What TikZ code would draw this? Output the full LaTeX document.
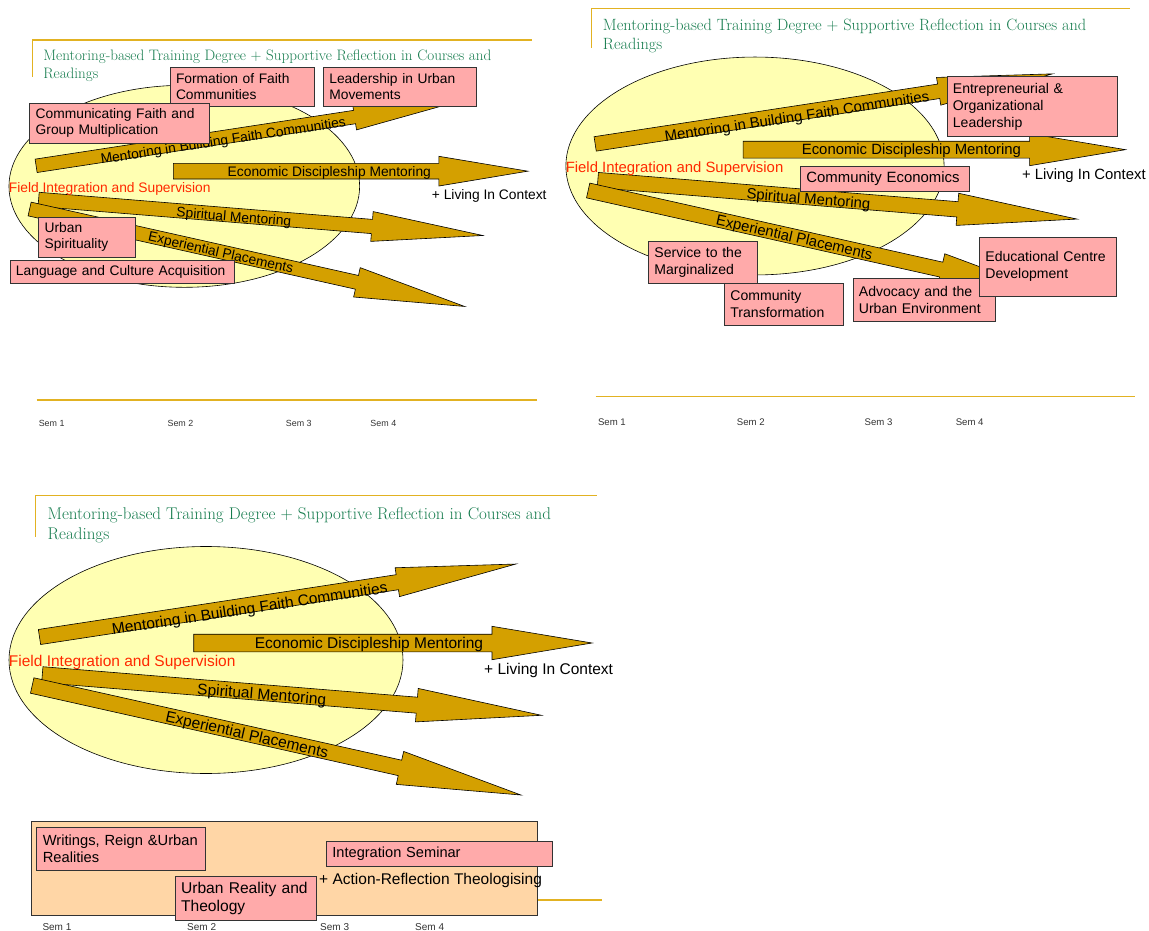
\documentclass[tikz,border=0pt]{standalone}
\usepackage{fontspec}
\setsansfont{Liberation Sans}
\usepackage{tikz}

\definecolor{framegold}{RGB}{226,178,34}
\definecolor{arrowgold}{RGB}{212,160,0}
\definecolor{fieldyellow}{RGB}{255,255,178}
\definecolor{topicpink}{RGB}{255,170,170}
\definecolor{bandpeach}{RGB}{255,214,166}
\definecolor{titlegreen}{RGB}{22,124,78}
\definecolor{fieldred}{RGB}{255,40,0}

\newcommand{\fatarrow}[9]{%
  \begin{scope}[shift={#1},rotate=#2]
    \draw[arrowbody] (0,-#4) -- ({#3-#6},-#4) -- ({#3-#6},-#5) -- (#3,0)
      -- ({#3-#6},#5) -- ({#3-#6},#4) -- (0,#4) -- cycle;
    \node[arrowlabel] (#8) at ({0.44*#3},#7) {#9};
  \end{scope}}

\begin{document}
\begin{tikzpicture}
	[ x=1pt, y=-1pt,
		arrowbody/.style={fill=arrowgold,draw=black,line width=0.6pt},
		arrowlabel/.style={inner sep=0pt,font=\sffamily\fontsize{15.5}{18}\selectfont},
		goldline/.style={draw=framegold,line width=1.3pt},
		fieldzone/.style={fill=fieldyellow,draw=black,line width=0.6pt},
		titletext/.style={anchor=north west,inner sep=0pt,align=left,text=titlegreen,font=\fontsize{17}{20}\selectfont},
		semlabel/.style={anchor=west,inner sep=0pt,text=black!80,font=\sffamily\fontsize{10}{12}\selectfont},
		fieldtext/.style={anchor=west,inner sep=0pt,text=fieldred,font=\sffamily\fontsize{15.5}{18}\selectfont},
		contexttext/.style={anchor=west,inner sep=0pt,font=\sffamily\fontsize{15.5}{18}\selectfont},
		band/.style={fill=bandpeach,draw=black!80,line width=0.8pt},
		topic/.style={anchor=north west,draw=black!80,line width=0.8pt,fill=topicpink,align=left,inner xsep=6pt,inner ysep=0pt},
		small topic/.style={topic,font=\sffamily\fontsize{13.8}{16.6}\selectfont},
		mid topic/.style={topic,font=\sffamily\fontsize{14.05}{17}\selectfont},
		panel/.pic={
			\draw[goldline] (-170.4,-123) -- (-170.4,-164.3) -- (391,-164.3);
			\node[titletext] (title) at (-158.6,-153) {Mentoring-based Training Degree + Supportive Reflection in Courses and\\Readings};
			\draw[goldline] (-166,240) -- (396,240);
			\node[semlabel] (sem1) at (-163.7,267) {Sem 1};
			\node[semlabel] (sem2) at (-19,267) {Sem 2};
			\node[semlabel] (sem3) at (114,267) {Sem 3};
			\node[semlabel] (sem4) at (209,267) {Sem 4};
			\draw[fieldzone] (0,0) ellipse [x radius=197,y radius=113.5];
			\fatarrow{(-166.5,-23)}{8.71}{482}{7.6}{14.6}{120}{5}{faith}{Mentoring in Building Faith Communities}
			\fatarrow{(-12.3,-17)}{0}{398.3}{8.8}{16.7}{100}{1.5}{economic}{Economic Discipleship Mentoring}
			\fatarrow{(-163.7,14.7)}{-4.65}{500.8}{8}{16.8}{125}{3}{spiritual}{Spiritual Mentoring}
			\fatarrow{(-173.8,25.5)}{-12.63}{500.9}{7.9}{16.9}{124}{2}{placements}{Experiential Placements}
			\node[fieldtext] (field) at (-197.3,2.5) {Field Integration and Supervision};
			\node[contexttext] (context) at (278,10.5) {+ Living In Context};
		}]

	\useasboundingbox (0,0) rectangle (1149,931);

	\pic[scale=0.89,transform shape] (left) at (184.3,186.3) {panel};
	\pic[scale=0.96,transform shape] (right) at (755,166) {panel};
	\pic[transform shape] (lower) at (206,660) {panel};

	\node[small topic,text width=132.7pt,minimum height=39.3pt] (formation) at (169.6,66.7) {Formation of Faith\\Communities};
	\node[small topic,text width=141pt,minimum height=39.3pt] (leadership) at (323,66.7) {Leadership in Urban\\Movements};
	\node[small topic,text width=167.7pt,minimum height=40pt] (communicating) at (29.3,102.7) {Communicating Faith and\\Group Multiplication};
	\node[small topic,text width=84.4pt,minimum height=40pt] (urban spirituality) at (38.2,216.7) {Urban\\Spirituality};
	\node[small topic,text width=212pt,minimum height=23.3pt] (language) at (9.6,260) {Language and Culture Acquisition};

	\node[mid topic,text width=158.5pt,minimum height=60pt] (entrepreneurial) at (946.5,76) {Entrepreneurial \&\\Organizational\\Leadership};
	\node[mid topic,font=\sffamily\fontsize{14.9}{17.8}\selectfont,text width=157pt,minimum height=25pt] (community economics) at (800,165.7) {Community Economics};
	\node[mid topic,text width=97pt,minimum height=42pt] (service) at (648,241) {Service to the\\Marginalized};
	\node[mid topic,text width=106.7pt,minimum height=42pt] (transformation) at (724,283) {Community\\Transformation};
	\node[mid topic,text width=130pt,minimum height=42.7pt] (advocacy) at (852.5,278) {Advocacy and the\\Urban Environment};
	\node[mid topic,text width=124.6pt,minimum height=59.3pt] (educational) at (979,236.7) {Educational Centre\\Development};

	\draw[band] (31.6,821.7) rectangle (537.5,915);
	\node[topic,font=\sffamily\fontsize{14.7}{17.7}\selectfont,text width=157pt,minimum height=43.3pt] (writings) at (36.4,826.7) {Writings, Reign \&Urban\\Realities};
	\node[topic,font=\sffamily\fontsize{15.6}{18.4}\selectfont,text width=129.3pt,minimum height=44pt] (urban reality) at (174.7,876) {Urban Reality and\\Theology};
	\node[topic,font=\sffamily\fontsize{14.6}{17.5}\selectfont,text width=214pt,minimum height=25pt] (integration) at (326,841) {Integration Seminar};
	\node[contexttext] (action reflection) at (319,880) {+ Action-Reflection Theologising};
\end{tikzpicture}
\end{document}
